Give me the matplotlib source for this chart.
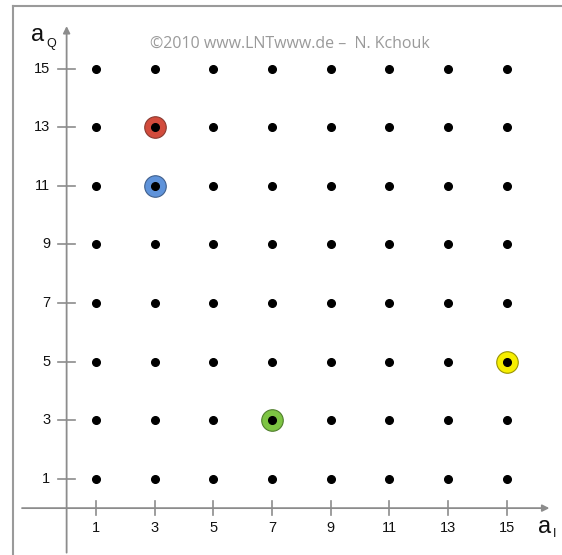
import matplotlib
matplotlib.use("Agg")
import matplotlib.pyplot as plt
import numpy as np

plt.rcParams['font.family'] = ['Liberation Sans', 'DejaVu Sans']

levels = [1, 3, 5, 7, 9, 11, 13, 15]
tick_labels = ["1", "3", "5", "7", "9", "11", "13", "15"]
highlight_x = [3, 3, 7, 15]
highlight_y = [13, 11, 3, 5]
highlight_colors = ["#d24b3c", "#5f93da", "#7dc443", "#f7ef00"]
highlight_edges = ["#8a3a30", "#3f5f8c", "#4f7d2c", "#9a9400"]
copyright_text = "©2010 www.LNTwww.de –  N. Kchouk"

fig = plt.figure(figsize=(5.62, 5.55), dpi=100)
ax = fig.add_axes([0, 0, 1, 1])
ax.set_xlim(-2.27, 16.88)
ax.set_ylim(-1.60, 17.34)
ax.axis('off')

# frame (left & top) in figure coords
fig.add_artist(plt.Line2D([13/562, 13/562], [0, 1 - 6/555], color="#9a9a9a", lw=1.5))
fig.add_artist(plt.Line2D([13/562, 1], [1 - 6/555, 1 - 6/555], color="#9a9a9a", lw=1.5))

axc = "#8c8c8c"
# axes with arrows
ax.annotate("", xy=(16.45, 0), xytext=(-1.52, 0),
            arrowprops=dict(arrowstyle="-|>", color=axc, lw=1.3, mutation_scale=10,
                            shrinkA=0, shrinkB=0))
ax.annotate("", xy=(0, 16.45), xytext=(0, -1.52),
            arrowprops=dict(arrowstyle="-|>", color=axc, lw=1.3, mutation_scale=10,
                            shrinkA=0, shrinkB=0))

# ticks
for v, lab in zip(levels, tick_labels):
    ax.plot([v, v], [-0.23, 0.23], color=axc, lw=1.2)
    ax.plot([-0.28, 0.28], [v, v], color=axc, lw=1.2)
    ax.text(v, -0.45, lab, ha='center', va='top', fontsize=10.5, color="#111111")
    ax.text(-0.55, v, lab, ha='right', va='center', fontsize=10.5, color="#111111")

# grid points
X, Y = np.meshgrid(levels, levels)
for hx, hy, c, e in zip(highlight_x, highlight_y, highlight_colors, highlight_edges):
    ax.plot(hx, hy, 'o', ms=15.5, mfc=c, mec=e, mew=0.8, zorder=3)
ax.plot(X.ravel(), Y.ravel(), 'o', ms=5.5, color='black', zorder=4)

# axis labels
ax.text(-1.22, 15.95, "a", fontsize=17, ha='left', va='baseline', color="#111111")
ax.text(-0.68, 15.75, "Q", fontsize=9, ha='left', va='baseline', color="#111111")
ax.text(16.05, -0.85, "a", fontsize=17, ha='left', va='baseline', color="#111111")
ax.text(16.58, -1.0, "I", fontsize=9, ha='left', va='baseline', color="#111111")

ax.text(7.61, 15.85, copyright_text, ha='center', va='center', fontsize=11.5,
        color="#9a9a9a", family=['Open Sans', 'DejaVu Sans'])

fig.savefig("out.png", dpi=100)
